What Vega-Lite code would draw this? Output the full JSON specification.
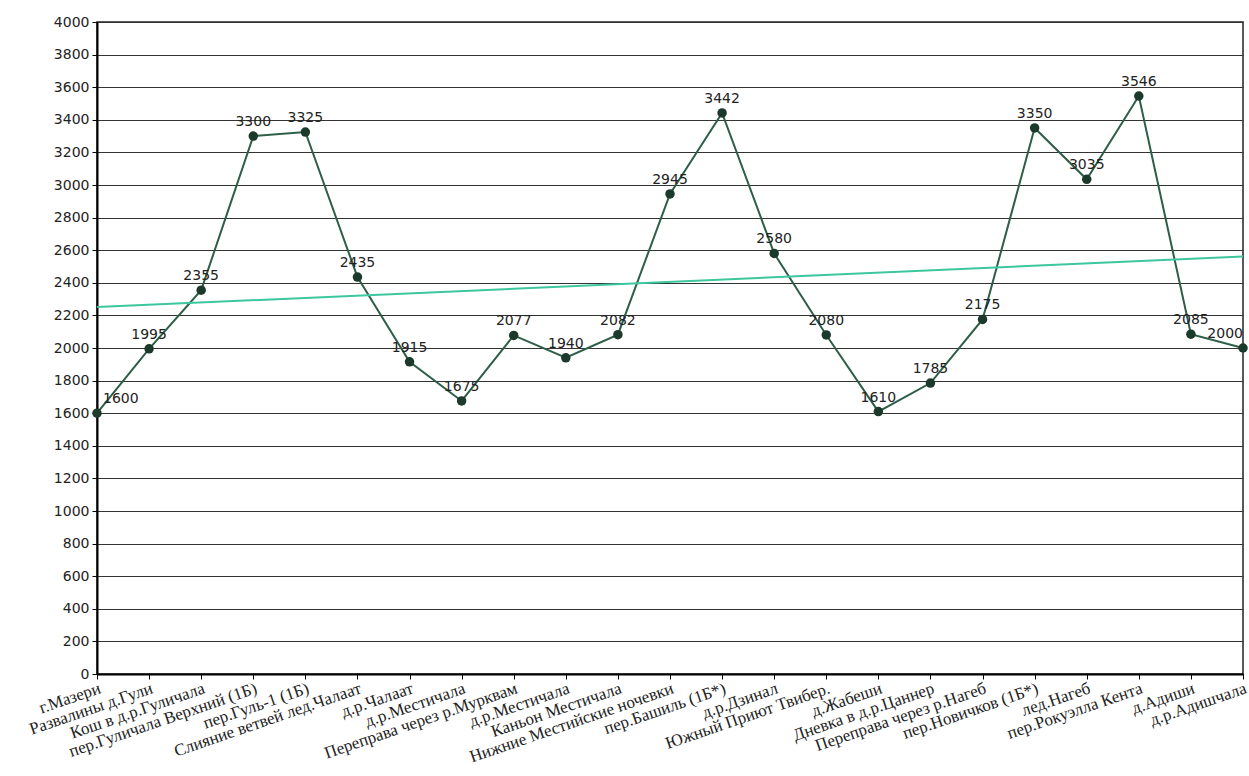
{
  "$schema": "https://vega.github.io/schema/vega-lite/v6.json",
  "autosize": "none",
  "padding": {"left": 97, "top": 22, "right": 5, "bottom": 102},
  "width": 1146,
  "height": 652,
  "background": "white",
  "config": {
    "view": {"stroke": "#222", "strokeWidth": 1.5},
    "axis": {"labelFont": "DejaVu Sans", "labelFontSize": 14, "labelColor": "#222", "domainColor": "#000", "tickColor": "#000", "gridColor": "#333", "gridOpacity": 1}
  },
  "datasets": {
    "pts": [
      {"i": 0, "label": "г.Мазери", "h": 1600},
      {"i": 1, "label": "Развалины д.Гули", "h": 1995},
      {"i": 2, "label": "Кош в д.р.Гуличала", "h": 2355},
      {"i": 3, "label": "пер.Гуличала Верхний (1Б)", "h": 3300},
      {"i": 4, "label": "пер.Гуль-1 (1Б)", "h": 3325},
      {"i": 5, "label": "Слияние ветвей лед.Чалаат", "h": 2435},
      {"i": 6, "label": "д.р.Чалаат", "h": 1915},
      {"i": 7, "label": "д.р.Местичала", "h": 1675},
      {"i": 8, "label": "Переправа через р.Мурквам", "h": 2077},
      {"i": 9, "label": "д.р.Местичала ", "h": 1940},
      {"i": 10, "label": "Каньон Местичала", "h": 2082},
      {"i": 11, "label": "Нижние Местийские ночевки", "h": 2945},
      {"i": 12, "label": "пер.Башиль (1Б*)", "h": 3442},
      {"i": 13, "label": "д.р.Дзинал", "h": 2580},
      {"i": 14, "label": "Южный Приют Твибер.", "h": 2080},
      {"i": 15, "label": "д.Жабеши", "h": 1610},
      {"i": 16, "label": "Дневка в д.р.Цаннер", "h": 1785},
      {"i": 17, "label": "Переправа через р.Нагеб", "h": 2175},
      {"i": 18, "label": "пер.Новичков (1Б*)", "h": 3350},
      {"i": 19, "label": "лед.Нагеб", "h": 3035},
      {"i": 20, "label": "пер.Рокуэлла Кента", "h": 3546},
      {"i": 21, "label": "д.Адиши", "h": 2085},
      {"i": 22, "label": "д.р.Адишчала", "h": 2000}
    ]
  },
  "data": {"name": "pts"},
  "encoding": {
    "x": {
      "field": "label", "type": "nominal", "sort": null,
      "scale": {"type": "point", "padding": 0},
      "axis": {"title": null, "labelAngle": -19, "labelAlign": "right", "labelBaseline": "top", "labelFont": "Liberation Serif", "labelFontSize": 17, "labelPadding": 1, "labelLimit": 0, "tickSize": 5, "domainWidth": 2, "labelOverlap": false, "grid": false}
    },
    "y": {
      "field": "h", "type": "quantitative",
      "scale": {"domain": [0, 4000], "nice": false, "zero": true},
      "axis": {"title": null, "format": "d", "values": [0,200,400,600,800,1000,1200,1400,1600,1800,2000,2200,2400,2600,2800,3000,3200,3400,3600,3800,4000], "tickSize": 5, "domainWidth": 2, "gridWidth": 1, "labelPadding": 3}
    }
  },
  "layer": [
    {"mark": {"type": "line", "color": "#2d5e47", "strokeWidth": 2}},
    {"mark": {"type": "point", "filled": true, "size": 90, "color": "#1c3a2c", "opacity": 1}},
    {
      "transform": [
        {"regression": "h", "on": "i"},
        {"lookup": "i", "from": {"data": {"name": "pts"}, "key": "i", "fields": ["label"]}}
      ],
      "mark": {"type": "line", "color": "#3cc79e", "strokeWidth": 2}
    },
    {
      "transform": [{"filter": "datum.i > 0 && datum.i < 22"}],
      "mark": {"type": "text", "font": "DejaVu Sans", "fontSize": 14, "color": "#222", "baseline": "bottom", "dy": -7},
      "encoding": {"text": {"field": "h", "type": "quantitative", "format": "d"}}
    },
    {
      "transform": [{"filter": "datum.i == 0"}],
      "mark": {"type": "text", "font": "DejaVu Sans", "fontSize": 14, "color": "#222", "baseline": "bottom", "align": "left", "dx": 6, "dy": -7},
      "encoding": {"text": {"field": "h", "type": "quantitative", "format": "d"}}
    },
    {
      "transform": [{"filter": "datum.i == 22"}],
      "mark": {"type": "text", "font": "DejaVu Sans", "fontSize": 14, "color": "#222", "baseline": "bottom", "align": "right", "dx": 0, "dy": -7},
      "encoding": {"text": {"field": "h", "type": "quantitative", "format": "d"}}
    }
  ]
}
